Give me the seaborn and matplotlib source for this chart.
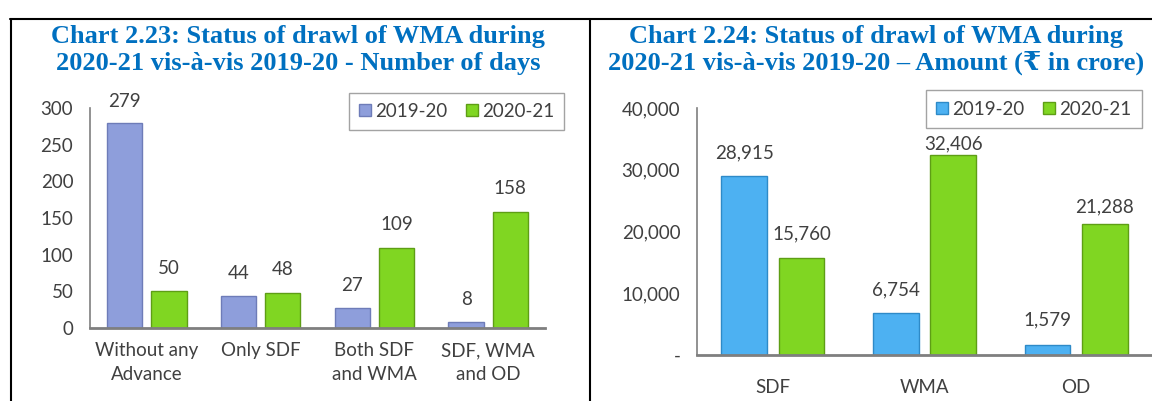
import pandas as pd
import matplotlib.pyplot as plt
import seaborn as sns
from matplotlib.patches import Patch
from matplotlib.lines import Line2D

# data
days_cats = ["Without any\nAdvance", "Only SDF", "Both SDF\nand WMA", "SDF, WMA\nand OD"]
days_1920 = [279, 44, 27, 8]
days_2021 = [50, 48, 109, 158]

amt_cats = ["SDF", "WMA", "OD"]
amt_1920 = [28915, 6754, 1579]
amt_2021 = [15760, 32406, 21288]

years = ["2019-20", "2020-21"]

title_left = "Chart 2.23: Status of drawl of WMA during\n2020-21 vis-à-vis 2019-20 - Number of days"
title_right = "Chart 2.24: Status of drawl of WMA during\n2020-21 vis-à-vis 2019-20 – Amount (₹ in crore)"

days_df = pd.DataFrame({
    "cat": days_cats * 2,
    "val": days_1920 + days_2021,
    "year": [years[0]] * 4 + [years[1]] * 4,
})
amt_df = pd.DataFrame({
    "cat": amt_cats * 2,
    "val": amt_1920 + amt_2021,
    "year": [years[0]] * 3 + [years[1]] * 3,
})

# label offsets (points) per series, nudged like the original
days_pads = [[10, 10, 10, 10], [10, 11, 11, 11]]
amt_pads = [[11, 11, 12], [11, 2, 6]]

sns.set_style("white")
plt.rcParams['font.family'] = ['Lato', 'DejaVu Sans']

fig = plt.figure(figsize=(11.52, 4.01), dpi=100)
W, H = 1152, 401

def px_axes(x0, x1, ytop, ybot):
    return fig.add_axes([x0 / W, 1 - ybot / H, (x1 - x0) / W, (ybot - ytop) / H])

ax1 = px_axes(90, 545, 108, 328)
ax2 = px_axes(697, 1152, 108, 355)

text_col = "#404040"
green = "#80D622"
green_edge = "#5E9E15"

def draw(ax, df, cats, colors, edges, fmt, ylim, yticks, ylabels, width, pad, pads):
    sns.barplot(data=df, x="cat", y="val", hue="year", order=cats, hue_order=years,
                palette=colors, saturation=1, width=width, gap=0.2, ax=ax, legend=False)
    for cont, ec, pp in zip(ax.containers, edges, pads):
        for p, v, off in zip(cont, cont.datavalues, pp):
            p.set_edgecolor(ec)
            p.set_linewidth(1.0)
            ax.annotate(fmt(v), (p.get_x() + p.get_width() / 2, p.get_height()),
                        xytext=(0, off), textcoords="offset points", ha="center",
                        va="bottom", fontsize=13.5, color=text_col, annotation_clip=False)
    ax.set_ylim(*ylim)
    ax.set_xlim(-0.5, len(cats) - 0.5)
    ax.set_yticks(yticks)
    ax.set_yticklabels(ylabels)
    ax.set_xlabel("")
    ax.set_ylabel("")
    ax.tick_params(axis="both", length=0, labelsize=13.5, colors=text_col)
    ax.tick_params(axis="x", pad=pad)
    ax.tick_params(axis="y", pad=12)
    for t in ax.get_xticklabels():
        t.set_linespacing(1.5)
    for s in ["top", "right"]:
        ax.spines[s].set_visible(False)
    ax.spines["left"].set_color("#7f7f7f")
    ax.spines["left"].set_linewidth(1.2)
    ax.spines["bottom"].set_color("#7f7f7f")
    ax.spines["bottom"].set_linewidth(2)
    handles = [Patch(facecolor=c, edgecolor=e) for c, e in zip(colors, edges)]
    leg = ax.legend(handles, years, loc="upper right", bbox_to_anchor=(1.0, 1.13),
                    ncol=2, fontsize=13.5, frameon=True, fancybox=False,
                    handlelength=0.65, handleheight=0.65, handletextpad=0.2,
                    columnspacing=1.0, borderpad=0.55)
    leg.get_frame().set_edgecolor("#8c8c8c")
    for t in leg.get_texts():
        t.set_color(text_col)

draw(ax1, days_df, days_cats, ["#8E9EDB", green], ["#6E7CB8", green_edge],
     lambda v: f"{v:.0f}", (0, 300), [0, 50, 100, 150, 200, 250, 300],
     ["0", "50", "100", "150", "200", "250", "300"], 0.775, 10, days_pads)
ax1.legend_.set_bbox_to_anchor((1.063, 1.113))

draw(ax2, amt_df, amt_cats, ["#4DB1F2", green], ["#2E8AC8", green_edge],
     lambda v: f"{v:,.0f}", (0, 40000), [0, 10000, 20000, 30000, 40000],
     ["-", "10,000", "20,000", "30,000", "40,000"], 0.755, 17, amt_pads)
ax2.legend_.set_bbox_to_anchor((0.998, 1.11))

# titles
title_col = "#0070C0"
fig.text(298 / W, 1 - 50 / H, title_left, ha="center", va="center", fontsize=19,
         fontweight="bold", color=title_col, family=["Liberation Serif", "DejaVu Serif"],
         linespacing=1.18)
fig.text(876 / W, 1 - 50 / H, title_right, ha="center", va="center", fontsize=19,
         fontweight="bold", color=title_col, family=["Liberation Serif", "DejaVu Serif"],
         linespacing=1.18)

# table frame
fig.add_artist(Line2D([10 / W, 1], [1 - 19 / H, 1 - 19 / H], color="black", lw=1.5))
fig.add_artist(Line2D([11 / W, 11 / W], [0, 1 - 19 / H], color="black", lw=1.5))
fig.add_artist(Line2D([590 / W, 590 / W], [0, 1 - 19 / H], color="black", lw=1.5))

fig.savefig("out.png", dpi=100)
